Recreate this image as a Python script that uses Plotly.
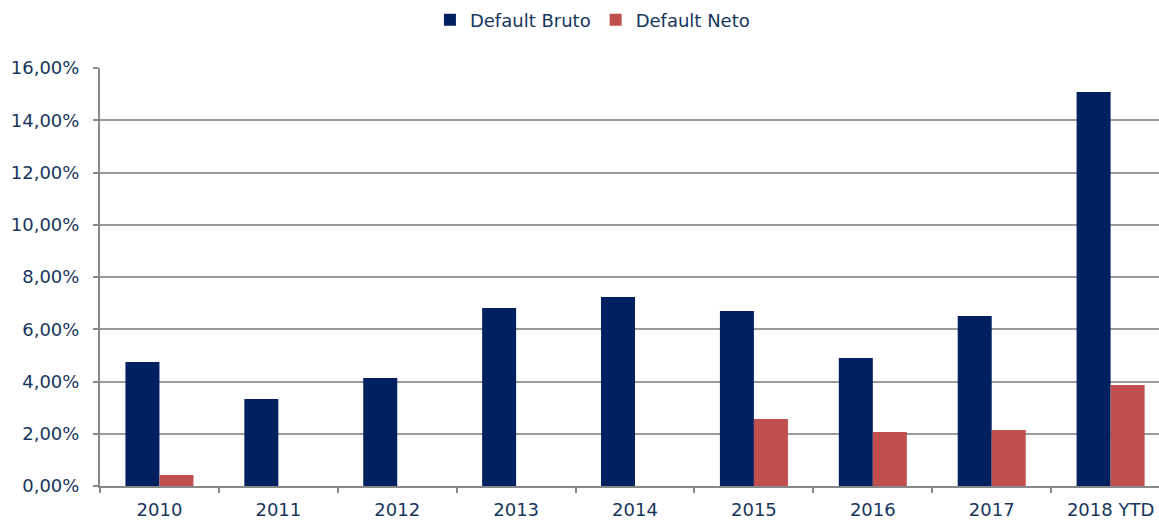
import plotly.graph_objects as go

categories = ["2010", "2011", "2012", "2013", "2014", "2015", "2016", "2017", "2018 YTD"]
default_bruto = [0.0475, 0.0333, 0.0413, 0.0681, 0.0723, 0.0670, 0.0490, 0.0651, 0.1508]
default_neto = [0.0042, 0.0, 0.0, 0.0, 0.0, 0.0256, 0.0207, 0.0214, 0.0387]
y_ticks = [0, 0.02, 0.04, 0.06, 0.08, 0.10, 0.12, 0.14, 0.16]

text_color = "#17365D"
font_family = "DejaVu Sans, Verdana, sans-serif"

fig = go.Figure()
fig.add_trace(go.Bar(name="Default Bruto", x=categories, y=default_bruto,
                     marker=dict(color="#002060", line=dict(width=0))))
fig.add_trace(go.Bar(name="Default Neto", x=categories, y=default_neto,
                     marker=dict(color="#C0504D", line=dict(width=0))))

fig.update_layout(
    width=1159, height=520,
    barmode="group", bargap=0.428, bargroupgap=0,
    separators=",.",
    plot_bgcolor="white", paper_bgcolor="white",
    font=dict(family=font_family, size=18, color=text_color),
    margin=dict(l=100, r=0, t=68, b=34, autoexpand=False),
    legend=dict(orientation="h", x=0.465, xanchor="center", y=1.115, yanchor="middle",
                font=dict(size=18, color=text_color), itemwidth=30,
                traceorder="normal"),
    xaxis=dict(range=[-0.5, 8.407], showline=True, linecolor="#888888", linewidth=2,
               ticks="outside", tickson="boundaries", ticklen=5, tickcolor="#888888", tickwidth=2,
               showgrid=False, ticklabelstandoff=6, tickfont=dict(size=18, color=text_color)),
    yaxis=dict(range=[0, 0.16], tickvals=y_ticks, tickformat=".2%",
               showline=True, linecolor="#888888", linewidth=2,
               ticks="outside", ticklen=5, tickcolor="#888888", tickwidth=2,
               showgrid=True, gridcolor="#9a9a9a", gridwidth=2,
               ticklabelstandoff=10,
               zeroline=False, tickfont=dict(size=18, color=text_color)),
)

fig.write_html("out.html", config={"displayModeBar": False},
               post_script="document.body.style.margin='0';document.body.style.padding='0';")
